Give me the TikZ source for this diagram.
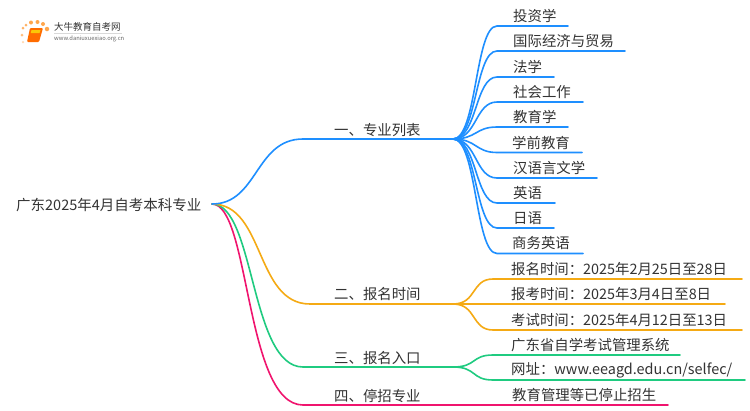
\documentclass[tikz,border=0pt]{standalone}
\usepackage{fontspec}
\setmainfont{Noto Sans CJK SC}
\definecolor{cblue}{HTML}{1E8FFF}
\definecolor{corange}{HTML}{F5AA14}
\definecolor{cgreen}{HTML}{1FCB80}
\definecolor{cpink}{HTML}{F0146E}
\definecolor{ctext}{HTML}{333333}
\tikzset{
  lab/.style={anchor=west,inner sep=0pt,text=ctext,font=\fontsize{14.4}{14}\selectfont},
  branch/.style={line width=1.6pt,line cap=round},
  dotlogo/.style={circle,inner sep=0pt,fill=#1,draw=none},
}
\newcommand{\leaf}[7]{%
  \coordinate (#1s) at (#4,#2);
  \coordinate (#1e) at (#3,#2);
  \node[lab] (#1) at (#5,#2-10) {#6};
  \draw[branch,#7] (#1h) .. controls +(24,0) and ([xshift=-22]#1s) .. (#1s) -- (#1e);
}
\begin{document}
\begin{tikzpicture}[x=1pt,y=-1pt]
\useasboundingbox (0,0) rectangle (750,410);
\fill[white] (0,0) rectangle (750,410);
% logo
\node[dotlogo=orange!60,minimum size=3pt] (d1) at (23,28) {};
\node[dotlogo=orange!50,minimum size=3pt] (d2) at (22,35) {};
\node[dotlogo=orange!60,minimum size=3pt] (d3) at (26,25) {};
\node[dotlogo=orange!70,minimum size=4pt] (d4) at (31,22.5) {};
\node[dotlogo=orange!70,minimum size=4pt] (d5) at (37.5,22) {};
\node[dotlogo=orange!70,minimum size=4pt] (d6) at (43,24) {};
\node[dotlogo=orange!70,minimum size=4.5pt] (d7) at (47,29) {};
\node[dotlogo=orange!30,minimum size=2.5pt] (d8) at (23,42) {};
\fill[orange!85!red,rounded corners=1pt] (30,28) -- (43,28) -- (39,42) -- (27,42) -- cycle;
\fill[yellow!60!orange] (31.5,30) -- (40.5,30) -- (39.5,33) -- (30.8,33) -- cycle;
\node[inner sep=0pt,anchor=west,text=ctext,font=\fontsize{9.5}{10}\selectfont] (logo1) at (54,27) {大牛教育自考网};
\draw[black!15,line width=0.6pt] (54,33.5) -- (122,33.5);
\node[inner sep=0pt,anchor=west,text=black!60,font=\fontsize{5.8}{6}\selectfont] (logo2) at (54,38.5) {www.daniuxuexiao.org.cn};
% root
\node[lab,font=\fontsize{14.5}{14}\selectfont] (root) at (16,205.5) {广东2025年4月自考本科专业};
\coordinate (r) at (212,204);
% main branches
\coordinate (b1s) at (303,139); \coordinate (h1) at (453,139);
\coordinate (b2s) at (310,304); \coordinate (h2) at (453,304);
\coordinate (b3s) at (303,367); \coordinate (h3) at (453,367);
\coordinate (b4s) at (303,405); \coordinate (h4) at (476,405);
\draw[branch,cpink] (r) .. controls (250,204) and (245,405) .. (b4s) -- (h4);
\draw[branch,cgreen] (r) .. controls (255,204) and (250,367) .. (b3s) -- (h3);
\draw[branch,corange] (r) .. controls (265,204) and (255,304) .. (b2s) -- (h2);
\draw[branch,cblue] (r) .. controls (258,204) and (255,139) .. (b1s) -- (h1);
\node[lab] (m1) at (334,130) {一、专业列表};
\node[lab] (m2) at (334,294.5) {二、报名时间};
\node[lab] (m3) at (334,358) {三、报名入口};
\node[lab] (m4) at (334,395.5) {四、停招专业};
% leaves
\foreach \n in {a,b,c,d,e,f,g,h,i,j} {\coordinate (\n h) at (h1);}
\foreach \n in {k,l,m} {\coordinate (\n h) at (h2);}
\foreach \n in {o,p} {\coordinate (\n h) at (h3);}
\leaf{a}{26}{568}{497}{513}{投资学}{cblue}
\leaf{b}{51}{625}{497}{513}{国际经济与贸易}{cblue}
\leaf{c}{77}{554}{497}{513}{法学}{cblue}
\leaf{d}{102}{583}{497}{513}{社会工作}{cblue}
\leaf{e}{127}{568}{497}{513}{教育学}{cblue}
\leaf{f}{152.5}{582}{497}{512}{学前教育}{cblue}
\leaf{g}{178}{597}{497}{513}{汉语言文学}{cblue}
\leaf{h}{203}{555}{497}{513}{英语}{cblue}
\leaf{i}{228}{554}{497}{513}{日语}{cblue}
\leaf{j}{253.5}{583}{497}{512}{商务英语}{cblue}
\leaf{k}{279}{742}{493}{511}{报名时间：2025年2月25日至28日}{corange}
\leaf{l}{304}{725}{493}{511}{报考时间：2025年3月4日至8日}{corange}
\leaf{m}{330}{742}{493}{511}{考试时间：2025年4月12日至13日}{corange}
\leaf{o}{355}{680}{493}{511}{广东省自学考试管理系统}{cgreen}
\leaf{p}{380}{745}{493}{511}{网址：www.eeagd.edu.cn/selfec/}{cgreen}
\node[lab] (q) at (512,395) {教育管理等已停止招生};
\coordinate (qe) at (668,405);
\draw[branch,cpink] (h4) -- (qe);
\end{tikzpicture}
\end{document}
